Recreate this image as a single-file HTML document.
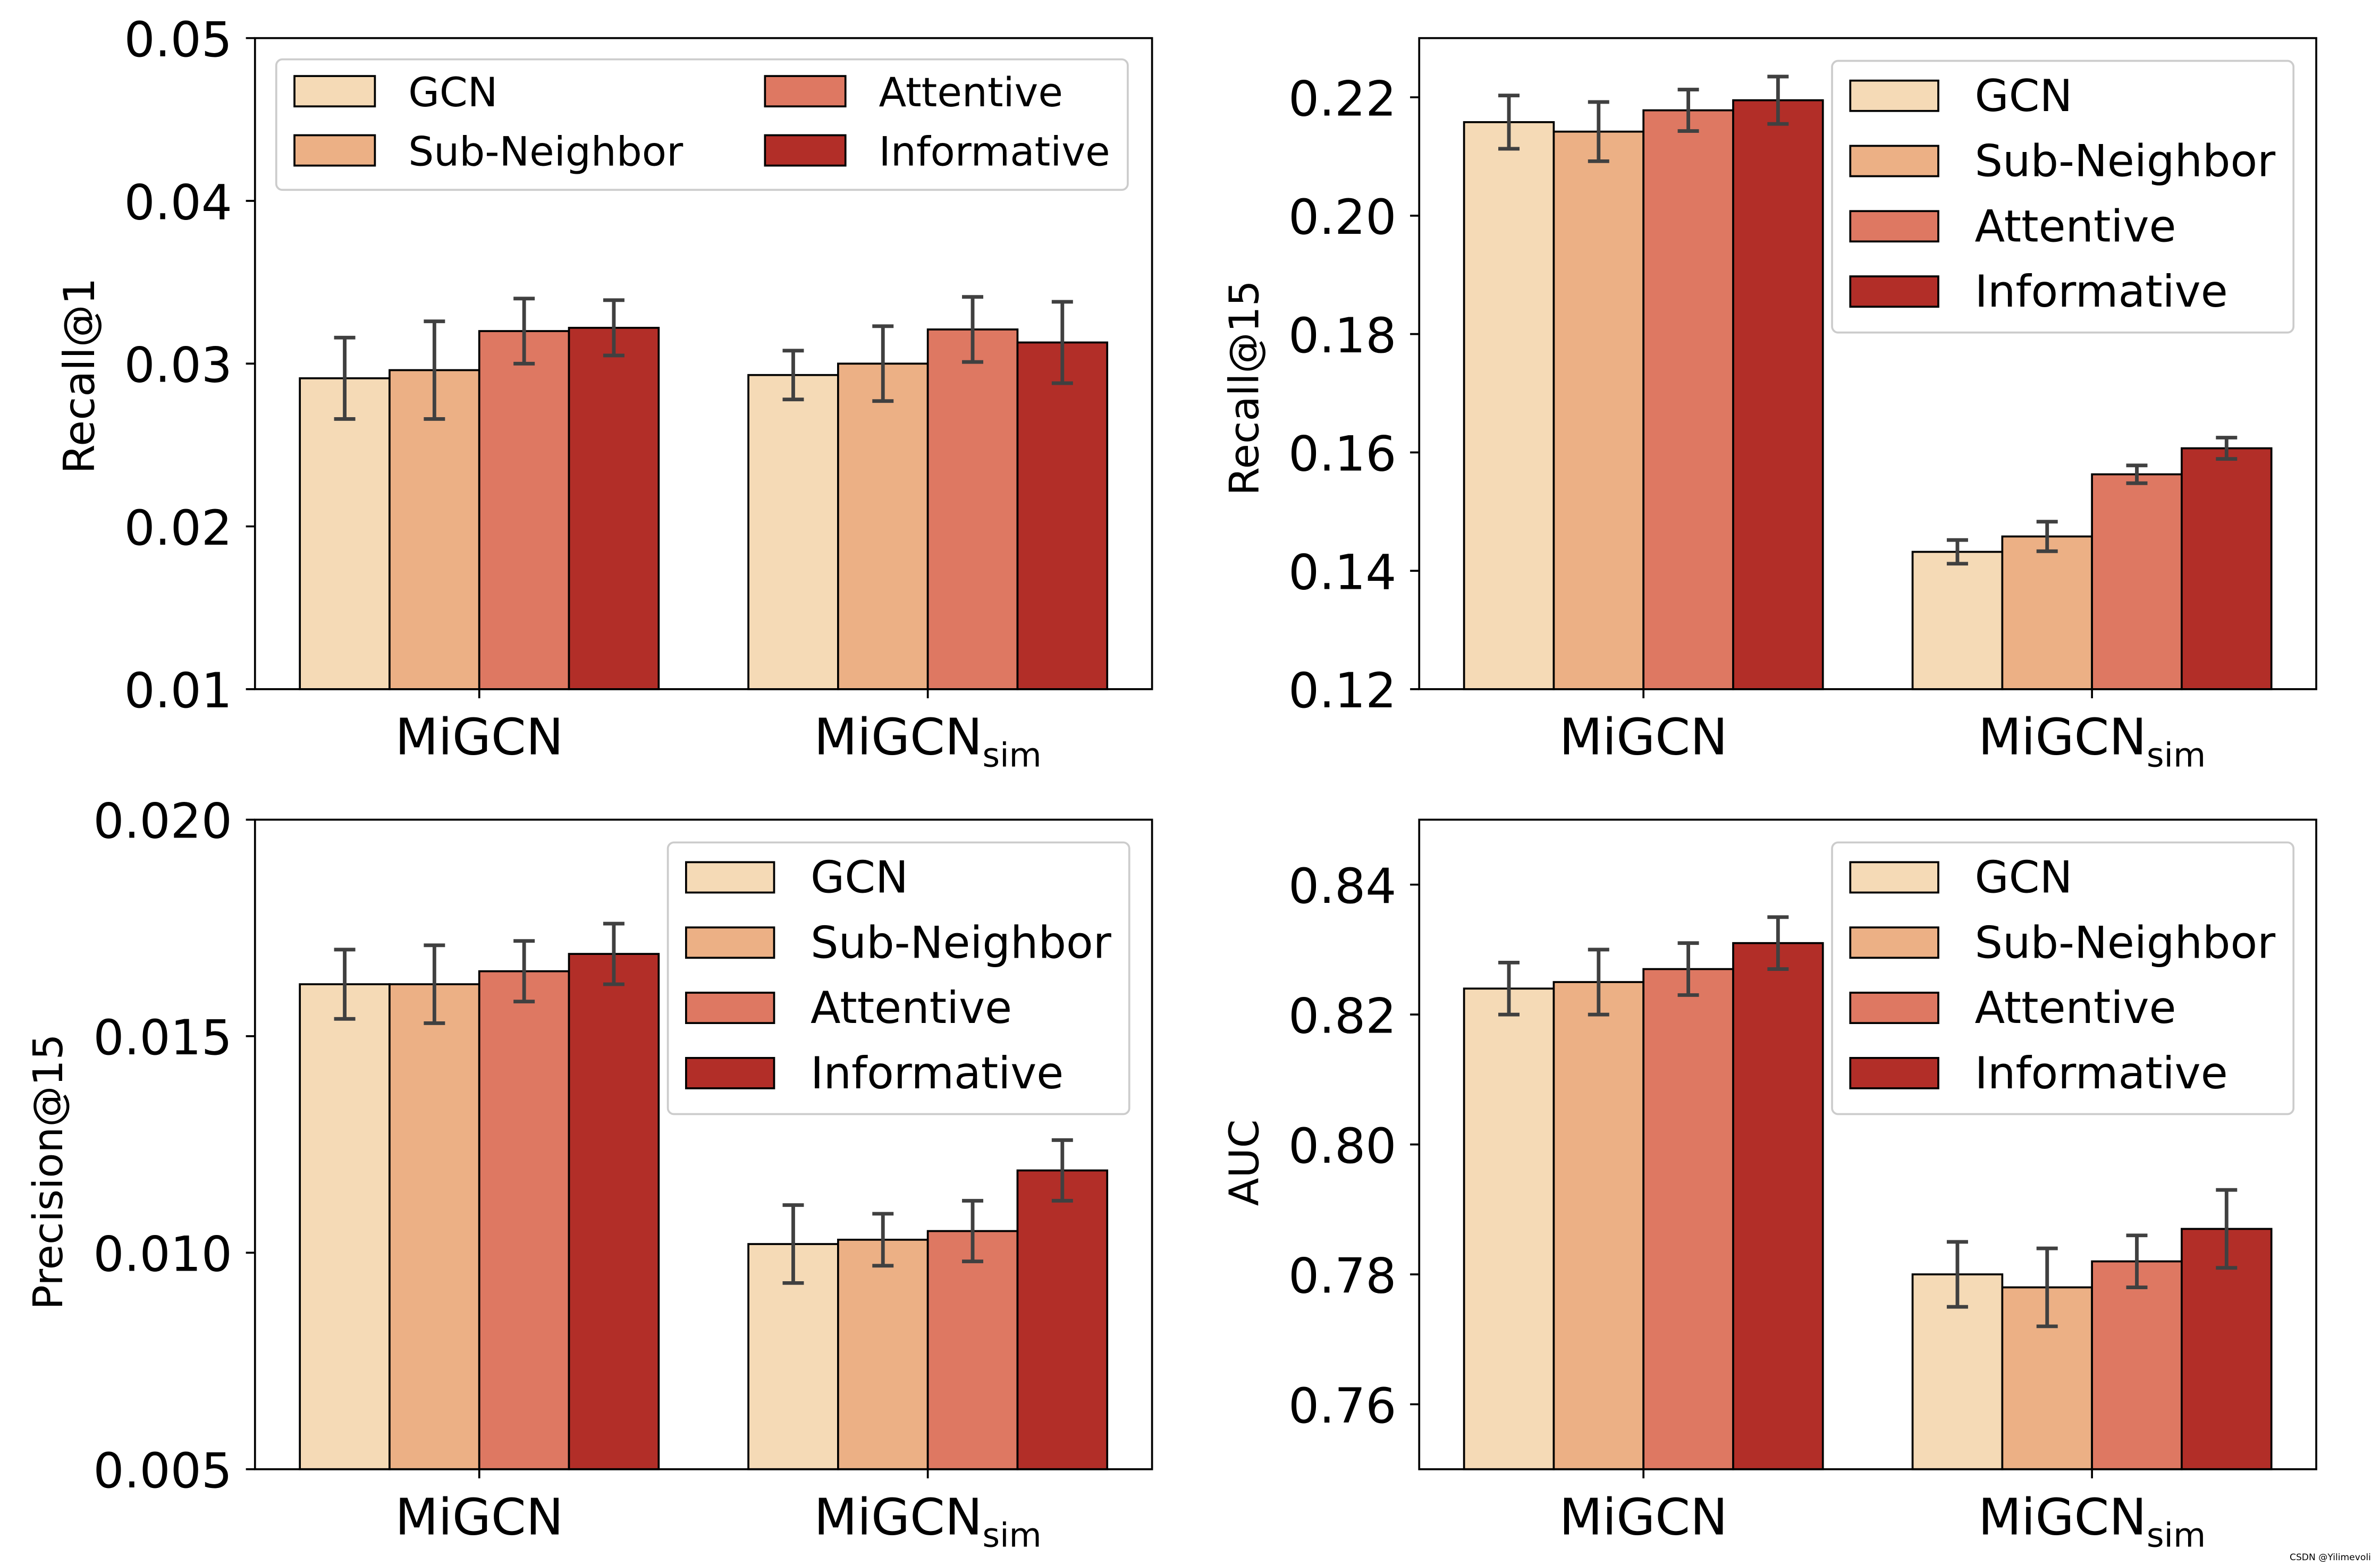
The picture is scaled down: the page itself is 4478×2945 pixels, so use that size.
<!DOCTYPE html>
<html><head><meta charset="utf-8"><style>
html,body{margin:0;padding:0;background:#fff}
svg{display:block}
text{font-family:"DejaVu Sans","Liberation Sans",sans-serif;fill:#000}
</style></head><body>
<svg id="fig" width="4478" height="2945" viewBox="0 0 1568 1031" xmlns="http://www.w3.org/2000/svg"></svg>
<script>
const groups = ["MiGCN", "MiGCN_sim"];
const seriesNames = ["GCN", "Sub-Neighbor", "Attentive", "Informative"];
const colors = ["#f5dab6", "#ecb085", "#de7862", "#b22e28"];
// panel 1: Recall@1
const r1Values = [[0.0291, 0.0296, 0.0320, 0.0322], [0.0293, 0.0300, 0.0321, 0.0313]];
const r1Errors = [[0.0025, 0.0030, 0.0020, 0.0017], [0.0015, 0.0023, 0.0020, 0.0025]];
const r1Ticks = ["0.01", "0.02", "0.03", "0.04", "0.05"];
// panel 2: Recall@15
const r15Values = [[0.2158, 0.2142, 0.2178, 0.2195], [0.1432, 0.1458, 0.1563, 0.1607]];
const r15Errors = [[0.0045, 0.0050, 0.0035, 0.0040], [0.0020, 0.0025, 0.0015, 0.0018]];
const r15Ticks = ["0.12", "0.14", "0.16", "0.18", "0.20", "0.22"];
// panel 3: Precision@15
const p15Values = [[0.0162, 0.0162, 0.0165, 0.0169], [0.0102, 0.0103, 0.0105, 0.0119]];
const p15Errors = [[0.0008, 0.0009, 0.0007, 0.0007], [0.0009, 0.0006, 0.0007, 0.0007]];
const p15Ticks = ["0.005", "0.010", "0.015", "0.020"];
// panel 4: AUC
const aucValues = [[0.824, 0.825, 0.827, 0.831], [0.780, 0.778, 0.782, 0.787]];
const aucErrors = [[0.004, 0.005, 0.004, 0.004], [0.005, 0.006, 0.004, 0.006]];
const aucTicks = ["0.76", "0.78", "0.80", "0.82", "0.84"];

const NS = "http://www.w3.org/2000/svg";
const svg = document.getElementById("fig");
function mk(tag, attrs, parent, txt) {
  const e = document.createElementNS(NS, tag);
  for (const k in attrs) e.setAttribute(k, attrs[k]);
  if (txt !== undefined) e.textContent = txt;
  (parent || svg).appendChild(e);
  return e;
}

function panel(cfg) {
  const g = mk("g", {});
  
  
  const {x0, x1, y0, y1, ymin, ymax} = cfg;
  const ys = v => y1 - (v - ymin) / (ymax - ymin) * (y1 - y0);
  const bw = (x1 - x0) * 0.1;
  const centers = [x0 + (x1 - x0) * 0.25, x0 + (x1 - x0) * 0.75];
  cfg.values.forEach((row, gi) => {
    row.forEach((v, si) => {
      const bx = centers[gi] + (si - 2) * bw;
      const r = mk("rect", {x: bx, y: ys(v), width: bw, height: y1 - ys(v), fill: colors[si], stroke: "#000", "stroke-width": 1.3}, g);
      
      
    });
  });
  cfg.values.forEach((row, gi) => {
    row.forEach((v, si) => {
      const cx = centers[gi] + (si - 1.5) * bw;
      const e = cfg.errors[gi][si];
      const eg = mk("g", {stroke: "#404040", "stroke-width": 2.4, fill: "none"}, g);
      
      
      mk("line", {x1: cx, x2: cx, y1: ys(v - e), y2: ys(v + e)}, eg);
      mk("line", {x1: cx - 7, x2: cx + 7, y1: ys(v - e), y2: ys(v - e)}, eg);
      mk("line", {x1: cx - 7, x2: cx + 7, y1: ys(v + e), y2: ys(v + e)}, eg);
    });
  });
  const fr = mk("rect", {x: x0, y: y0, width: x1 - x0, height: y1 - y0, fill: "none", stroke: "#000", "stroke-width": 1.3}, g);
  
  
  cfg.ticks.forEach(t => {
    const y = ys(parseFloat(t));
    mk("line", {x1: x0 - 6, x2: x0, y1: y, y2: y, stroke: "#000", "stroke-width": 1.3}, g);
    const tt = mk("text", {x: x0 - 15, y: y + 12, "text-anchor": "end", "font-size": 32}, g, t);
    
    
  });
  centers.forEach((c, gi) => {
    mk("line", {x1: c, x2: c, y1: y1, y2: y1 + 6, stroke: "#000", "stroke-width": 1.3}, g);
    const t = mk("text", {x: c, y: y1 + 43, "text-anchor": "middle", "font-size": 33}, g);
    
    
    if (gi === 0) t.textContent = "MiGCN";
    else {
      mk("tspan", {}, t, "MiGCN");
      mk("tspan", {"font-size": 22, dy: 8}, t, "sim");
    }
  });
  const yl = mk("text", {x: 0, y: 0, "text-anchor": "middle", "font-size": cfg.ylfs, transform: `translate(${cfg.ylx},${(y0 + y1) / 2 + cfg.yloff}) rotate(-90)`}, g, cfg.ylabel);
  
  
  const L = cfg.legend;
  const lg = mk("g", {}, g);
  
  
  mk("rect", {x: L.x, y: L.y, width: L.w, height: L.h, rx: 4, fill: "#fff", "fill-opacity": 0.85, stroke: "#ccc", "stroke-width": 1.3}, lg);
  seriesNames.forEach((n, i) => {
    let ex, ey;
    if (L.cols === 2) { ex = L.x + 12 + (i >= 2 ? 310 : 0); ey = L.y + 21 + (i % 2) * 39; }
    else { ex = L.x + 12; ey = L.y + 23 + i * 43; }
    const eg = mk("g", {}, lg);
    
    
    mk("rect", {x: ex, y: ey - 10, width: L.sw, height: 20, fill: colors[i], stroke: "#000", "stroke-width": 1.3}, eg);
    mk("text", {x: ex + L.sw + L.gap, y: ey + 10, "font-size": L.fs}, eg, n);
  });
}

panel({name: "recall-at-1-panel", x0: 168, x1: 759, y0: 25, y1: 454, ymin: 0.01, ymax: 0.05, values: r1Values, errors: r1Errors, ticks: r1Ticks, ylabel: "Recall@1", ylx: 62, ylfs: 28, yloff: 8,
  legend: {x: 182, y: 39, w: 561, h: 86, cols: 2, sw: 53, gap: 22, fs: 26.5}});
panel({name: "recall-at-15-panel", x0: 935, x1: 1526, y0: 25, y1: 454, ymin: 0.12, ymax: 0.23, values: r15Values, errors: r15Errors, ticks: r15Ticks, ylabel: "Recall@15", ylx: 829, ylfs: 27, yloff: 16,
  legend: {x: 1207, y: 40, w: 304, h: 179, cols: 1, sw: 58, gap: 24, fs: 29}});
panel({name: "precision-at-15-panel", x0: 168, x1: 759, y0: 540, y1: 968, ymin: 0.005, ymax: 0.020, values: p15Values, errors: p15Errors, ticks: p15Ticks, ylabel: "Precision@15", ylx: 41, ylfs: 27, yloff: 18,
  legend: {x: 440, y: 555, w: 304, h: 179, cols: 1, sw: 58, gap: 24, fs: 29}});
panel({name: "auc-panel", x0: 935, x1: 1526, y0: 540, y1: 968, ymin: 0.75, ymax: 0.85, values: aucValues, errors: aucErrors, ticks: aucTicks, ylabel: "AUC", ylx: 829, ylfs: 27, yloff: 12,
  legend: {x: 1207, y: 555, w: 304, h: 179, cols: 1, sw: 58, gap: 24, fs: 29}});

const wm = mk("text", {x: 1562, y: 1028, "text-anchor": "end", "font-size": 6, fill: "#999"}, svg, "CSDN @Yilimevoli");


</script>
</body></html>
